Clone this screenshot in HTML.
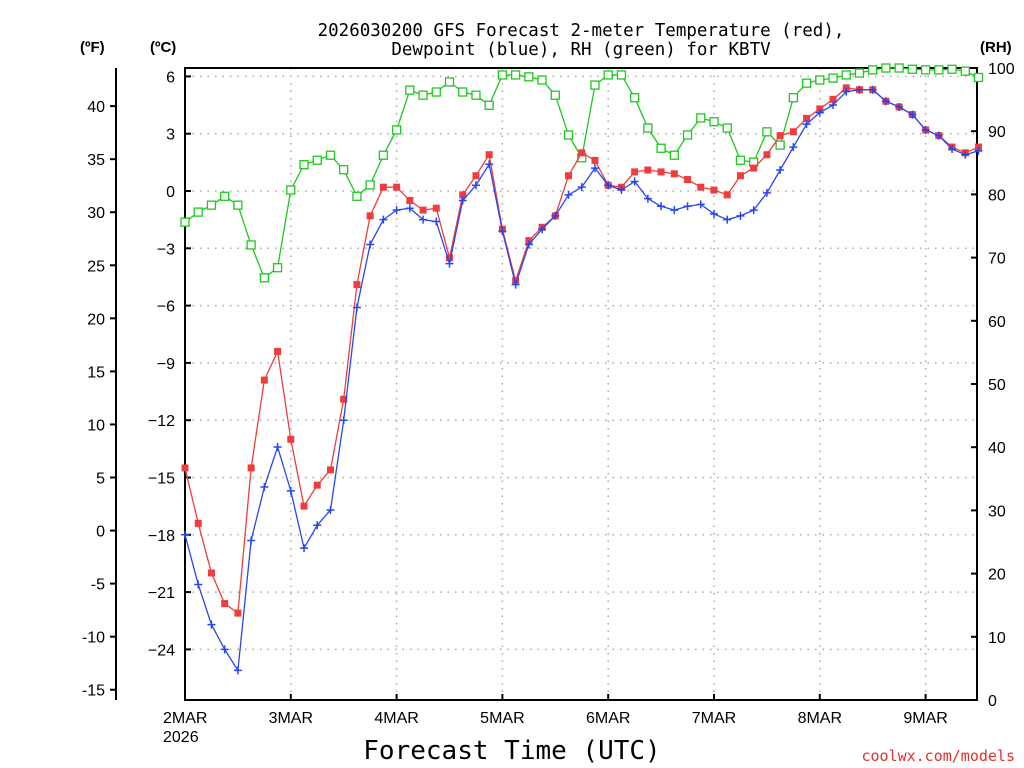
<!DOCTYPE html>
<html><head><meta charset="utf-8"><style>
body{margin:0;background:#fff;}
svg{display:block;font-family:"Liberation Sans","DejaVu Sans",sans-serif;}
</style></head><body>
<svg id="c" width="1024" height="768" xmlns="http://www.w3.org/2000/svg"></svg>
<script>
const hours = [];for(let h=0;h<=180;h+=3)hours.push(h);
const tempC = [-14.5,-17.4,-20.0,-21.6,-22.1,-14.5,-9.9,-8.4,-13.0,-16.5,-15.4,-14.6,-10.9,-4.9,-1.3,0.2,0.2,-0.5,-1.0,-0.9,-3.5,-0.2,0.8,1.9,-2.0,-4.7,-2.6,-1.9,-1.3,0.8,2.0,1.6,0.3,0.2,1.0,1.1,1.0,0.9,0.6,0.2,0.05,-0.2,0.8,1.2,1.9,2.9,3.1,3.8,4.3,4.8,5.4,5.3,5.3,4.7,4.4,4.0,3.2,2.9,2.3,2.0,2.3];
const dewC = [-18.0,-20.6,-22.7,-24.0,-25.1,-18.3,-15.5,-13.4,-15.7,-18.7,-17.5,-16.7,-12.0,-6.1,-2.8,-1.5,-1.0,-0.9,-1.5,-1.6,-3.8,-0.5,0.3,1.4,-2.1,-4.9,-2.8,-2.0,-1.3,-0.2,0.2,1.2,0.3,0.05,0.5,-0.4,-0.8,-1.0,-0.8,-0.7,-1.2,-1.5,-1.3,-1.0,-0.1,1.1,2.3,3.5,4.1,4.5,5.2,5.3,5.3,4.7,4.4,4.0,3.2,2.9,2.2,1.9,2.1];
const rh = [75.6,77.2,78.3,79.7,78.3,72,66.8,68.4,80.7,84.7,85.4,86.2,83.9,79.7,81.5,86.2,90.2,96.5,95.7,96.2,97.8,96.2,95.7,94.1,98.9,98.9,98.6,98.1,95.7,89.4,85.8,97.3,98.9,98.9,95.3,90.5,87.3,86.2,89.4,92.1,91.5,90.5,85.4,85.1,89.9,87.8,95.3,97.6,98.1,98.4,98.9,99.2,99.7,100,100,99.8,99.7,99.7,99.8,99.5,98.5];
const dayLabels = ["2MAR","3MAR","4MAR","5MAR","6MAR","7MAR","8MAR","9MAR"];
const fTicks = [40,35,30,25,20,15,10,5,0,-5,-10,-15];
const cTicks = [6,3,0,-3,-6,-9,-12,-15,-18,-21,-24];
const rhTicks = [0,10,20,30,40,50,60,70,80,90,100];

const NS="http://www.w3.org/2000/svg", svg=document.getElementById('c');
const L=185,R=977,T=68,B=700;
const xH=h=>L+h*105.8/24;
const yC=c=>191-c*19.1;
const yF=f=>yC((f-32)*5/9);
const yRH=v=>B-v*(B-T)/100;
function el(tag,a,parent){const e=document.createElementNS(NS,tag);for(const k in a)e.setAttribute(k,a[k]);(parent||svg).appendChild(e);return e;}
function txt(s,a){const e=el('text',a);e.textContent=s;return e;}

const grid=el('g',{stroke:'#aaa','stroke-width':1.5,'stroke-dasharray':'1.5 6'});


cTicks.forEach(c=>el('line',{x1:L,x2:R,y1:yC(c),y2:yC(c)},grid));
for(let d=1;d<8;d++)el('line',{x1:xH(d*24),x2:xH(d*24),y1:T,y2:B},grid);

const ax=el('g',{stroke:'#000','stroke-width':2,fill:'none'});


el('rect',{x:L,y:T,width:R-L,height:B-T},ax);
el('line',{x1:116,x2:116,y1:T,y2:B},ax);
fTicks.forEach(f=>{el('line',{x1:110,x2:116,y1:yF(f),y2:yF(f)},ax);
 const t=txt(String(f),{x:105,y:yF(f)+6,'text-anchor':'end','font-size':16});
 });
cTicks.forEach(c=>{el('line',{x1:L,x2:L+6,y1:yC(c),y2:yC(c)},ax);
 const t=txt(String(c).replace('-','−'),{x:175,y:yC(c)+6,'text-anchor':'end','font-size':16});
 });
rhTicks.forEach(v=>{el('line',{x1:R-6,x2:R,y1:yRH(v),y2:yRH(v)},ax);
 const t=txt(String(v),{x:988,y:yRH(v)+6,'font-size':16});
 });
dayLabels.forEach((d,i)=>{el('line',{x1:xH(i*24),x2:xH(i*24),y1:B-6,y2:B},ax);
 const t=txt(d,{x:xH(i*24)+(i==0?-22:0),y:723,'text-anchor':i==0?'start':'middle','font-size':16});
 });
txt('2026',{x:163,y:742,'font-size':16});

function series(vals,yf,color,marker,name){
 const g=el('g',{});
 
 
 el('polyline',{points:vals.map((v,i)=>xH(hours[i])+','+yf(v)).join(' '),fill:'none',stroke:color,'stroke-width':1.3},g);
 vals.forEach((v,i)=>{const x=xH(hours[i]),y=yf(v);
  if(marker=='sq')el('rect',{x:x-3.5,y:y-3.5,width:7,height:7,fill:color},g);
  else if(marker=='osq')el('rect',{x:x-4,y:y-4,width:8,height:8,fill:'#fff',stroke:color,'stroke-width':1.3},g);
  else el('path',{d:`M${x-4} ${y}H${x+4}M${x} ${y-4}V${y+4}`,stroke:color,'stroke-width':1.5},g);});
}
series(rh,yRH,'#1ec81e','osq','rh-series');
series(tempC,yC,'#f03c3c','sq','temperature-series');
series(dewC,yC,'#2846f0','plus','dewpoint-series');

const mono={'font-family':'"DejaVu Sans Mono","Liberation Mono",monospace'};
let t=txt('2026030200 GFS Forecast 2-meter Temperature (red),',Object.assign({x:581,y:36,'text-anchor':'middle','font-size':17.5},mono));

t=txt('Dewpoint (blue), RH (green) for KBTV',Object.assign({x:581,y:55,'text-anchor':'middle','font-size':17.5},mono));

t=txt('(ºF)',{x:80,y:52,'font-size':15,'font-weight':'bold'});
t=txt('(ºC)',{x:150,y:52,'font-size':15,'font-weight':'bold'});
t=txt('(RH)',{x:980,y:52,'font-size':15,'font-weight':'bold'});
t=txt('Forecast Time (UTC)',Object.assign({x:512,y:759,'text-anchor':'middle','font-size':26},mono));

t=txt('coolwx.com/models',Object.assign({x:1015,y:761,'text-anchor':'end','font-size':15,fill:'#e03030'},mono));

</script>
</body></html>
